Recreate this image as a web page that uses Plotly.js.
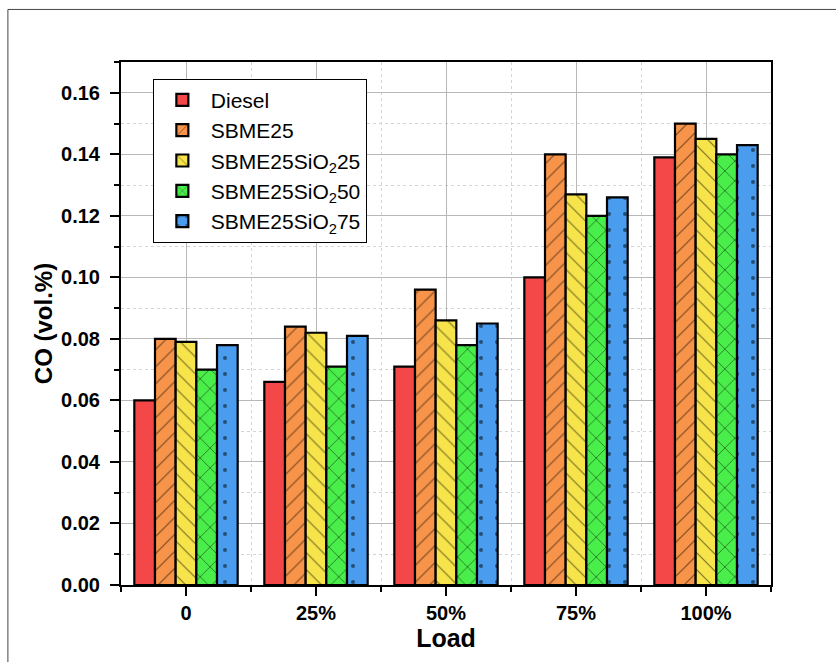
<!DOCTYPE html>
<html>
<head>
<meta charset="utf-8">
<script src="https://cdn.plot.ly/plotly-3.0.1.min.js"></script>
<style>
html,body{margin:0;padding:0;background:#fff;}
#chart{width:836px;height:662px;}
</style>
</head>
<body>
<div id="chart"></div>
<script>
const loads = ["0", "25%", "50%", "75%", "100%"];
const seriesNames = ["Diesel", "SBME25", "SBME25SiO<sub>2</sub>25", "SBME25SiO<sub>2</sub>50", "SBME25SiO<sub>2</sub>75"];
const diesel = [0.060, 0.066, 0.071, 0.100, 0.139];
const sbme25 = [0.080, 0.084, 0.096, 0.140, 0.150];
const sio25 = [0.079, 0.082, 0.086, 0.127, 0.145];
const sio50 = [0.070, 0.071, 0.078, 0.120, 0.140];
const sio75 = [0.078, 0.081, 0.085, 0.126, 0.143];

const values = [diesel, sbme25, sio25, sio50, sio75];
const colors = ["#F44848", "#F7944A", "#F7E44A", "#4AEE4A", "#4A9CEE"];
const patterns = ["", "/", "\\", "x", "."];
const patSizes = [8, 12, 12, 14, 16];
const patSolid = [0.2, 0.1, 0.1, 0.12, 0.05];

const xpos = loads.map((_, i) => i);
const traces = values.map((v, k) => ({
  type: "bar",
  name: seriesNames[k],
  x: xpos,
  y: v,
  legendgroup: "g" + k,
  marker: {
    color: colors[k],
    line: {color: "#000", width: 2.2},
    pattern: {shape: patterns[k], fgcolor: "#000", bgcolor: colors[k], size: patSizes[k], solidity: patSolid[k], fillmode: "overlay"}
  },
  hoverinfo: "skip"
}));

const font = "Liberation Sans, Arial, sans-serif";
const layout = {
  width: 836, height: 662,
  margin: {l: 121, r: 65, t: 62, b: 77},
  paper_bgcolor: "#fff", plot_bgcolor: "#fff",
  barmode: "group",
  bargap: 0.205,
  bargroupgap: 0,
  showlegend: true,
  legend: {
    x: 0.049, y: 0.968, xanchor: "left", yanchor: "top",
    bgcolor: "#fff", bordercolor: "#000", borderwidth: 1,
    font: {family: font, size: 21, color: "#000"},
    tracegroupgap: 0, itemwidth: 47
  },
  font: {family: font, color: "#000"},
  xaxis: {
    range: [-0.5, 4.5],
    tickmode: "array", tickvals: xpos, ticktext: loads,
    ticks: "outside", ticklen: 9, tickwidth: 2, tickcolor: "#000",
    showline: true, linecolor: "#000", linewidth: 2, mirror: true,
    showgrid: true, gridcolor: "#b8b8b8", gridwidth: 1,
    zeroline: false,
    tickfont: {family: font, size: 20, color: "#000", weight: "bold"},
    ticklabelstandoff: 0,
    minor: {tick0: 0.5, dtick: 1, ticks: "outside", ticklen: 5, tickwidth: 2, tickcolor: "#000", showgrid: true, gridcolor: "#d4d4d4", griddash: "dot", gridwidth: 1},
    title: {text: "<b>Load</b>", font: {family: font, size: 25, color: "#000"}, standoff: 6}
  },
  yaxis: {
    range: [0, 0.17],
    tick0: 0, dtick: 0.02, tickformat: ".2f",
    ticks: "outside", ticklen: 9, tickwidth: 2, tickcolor: "#000",
    showline: true, linecolor: "#000", linewidth: 2, mirror: true,
    showgrid: true, gridcolor: "#b8b8b8", gridwidth: 1,
    zeroline: false,
    tickfont: {family: font, size: 20, color: "#000", weight: "bold"},
    ticklabelstandoff: 6,
    minor: {dtick: 0.01, ticks: "outside", ticklen: 5, tickwidth: 2, tickcolor: "#000", showgrid: true, gridcolor: "#d4d4d4", griddash: "dot", gridwidth: 1},
    title: {text: "<b>CO (vol.%)</b>", font: {family: font, size: 24, color: "#000"}, standoff: 2}
  },
  shapes: [{
    type: "rect", xref: "paper", yref: "paper",
    x0: -0.174, x1: 1.3, y0: -0.3, y1: 1.1005,
    line: {color: "#444", width: 1}, fillcolor: "rgba(0,0,0,0)", layer: "below"
  }]
};

Plotly.newPlot("chart", traces, layout, {displayModeBar: false, staticPlot: true});
</script>
</body>
</html>
